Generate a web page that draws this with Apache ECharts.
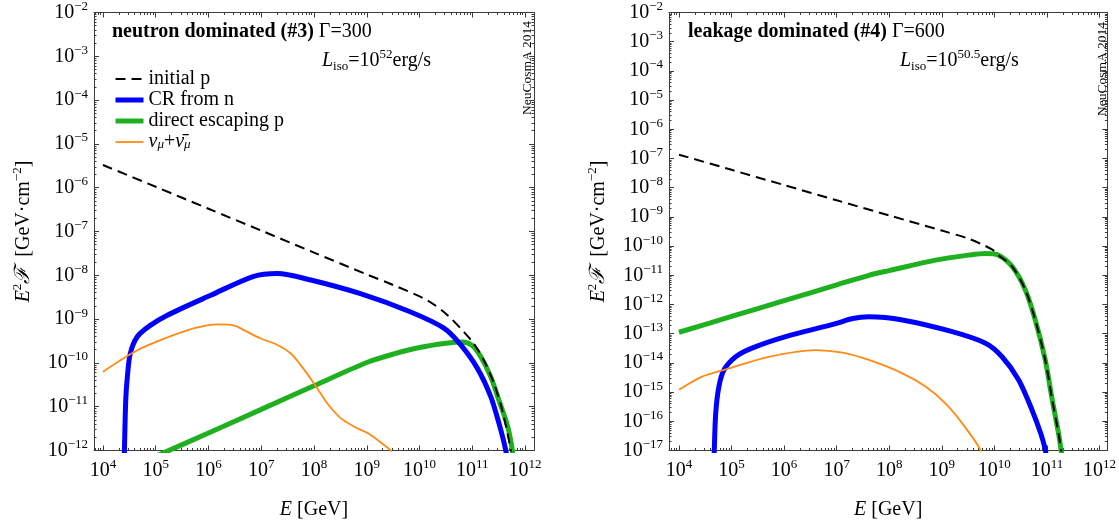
<!DOCTYPE html>
<html><head><meta charset="utf-8">
<script src="https://cdn.jsdelivr.net/npm/echarts@6/dist/echarts.min.js"></script>
<style>html,body{margin:0;padding:0;background:#fff}#c{width:1119px;height:525px}</style>
</head><body><div id="c"></div><script>
// ---- tick labels (decade exponents) ----
const xTickExps = [4, 5, 6, 7, 8, 9, 10, 11, 12];
const yTickExpsLeft = [-12, -11, -10, -9, -8, -7, -6, -5, -4, -3, -2];
const yTickExpsRight = [-17, -16, -15, -14, -13, -12, -11, -10, -9, -8, -7, -6, -5, -4, -3, -2];

// ---- series names ----
const seriesNames = ['initial p', 'CR from n', 'direct escaping p', 'ν_μ+ν̄_μ'];

// ---- left panel: neutron dominated (#3) [E (GeV), E^2 F (GeV cm^-2)] ----
const leftInitialP = [[1e4,3.3e-6],[1e5,1.05e-6],[1e6,3.3e-7],[1e7,1.05e-7],[1e8,3.3e-8],[1e9,1.05e-8],[3.16e9,6.0e-9],[1.4e10,2.7e-9],[3.4e10,1.23e-9],[6.9e10,5.1e-10],[1.07e11,2.75e-10],[1.66e11,1.15e-10],[2.57e11,3.4e-11],[3.7e11,8.3e-12],[5.4e11,1.0e-12],[5.9e11,4e-13]];
const leftCRn = [[2.5e4,3e-13],[2.7e4,1.4e-11],[2.9e4,4.8e-11],[3.3e4,1.66e-10],[4.5e4,4.0e-10],[7.9e4,7.2e-10],[1.66e5,1.23e-9],[1.1e6,3.5e-9],[7.2e6,9.5e-9],[2.0e7,1.1e-8],[8.7e7,7.8e-9],[7.6e8,3.8e-9],[6.8e9,1.45e-9],[2.9e10,6.2e-10],[6.0e10,2.6e-10],[1.26e11,7.4e-11],[2.24e11,1.7e-11],[3.2e11,4.2e-12],[4.3e11,1.02e-12],[4.8e11,4e-13]];
const leftDirectP = [[1e5,7.4e-13],[1e6,2.5e-12],[1e7,8.7e-12],[1e8,3.0e-11],[1e9,1.02e-10],[3.16e9,1.58e-10],[1e10,2.24e-10],[3.16e10,2.8e-10],[6.3e10,3.0e-10],[1e11,2.5e-10],[1.45e11,1.38e-10],[2.24e11,4.8e-11],[3.2e11,1.4e-11],[4.7e11,3.5e-12],[5.75e11,1.0e-12],[6.2e11,4e-13]];
const leftNumu = [[1e4,6.3e-11],[3.9e4,1.78e-10],[1.23e5,3.3e-10],[5.4e5,6.2e-10],[1.5e6,7.6e-10],[3.0e6,7.2e-10],[4.7e6,5.6e-10],[9.8e6,3.6e-10],[2.0e7,2.6e-10],[3.6e7,1.66e-10],[5.6e7,8.9e-11],[1.0e8,3.4e-11],[1.78e8,1.2e-11],[3.2e8,5.5e-12],[5.8e8,3.5e-12],[1.17e9,2.3e-12],[2.1e9,1.35e-12],[2.8e9,1.02e-12],[3.5e9,6e-13]];

// ---- right panel: leakage dominated (#4) ----
const rightInitialP = [[1e4,1.35e-7],[1e5,4.1e-8],[1e6,1.23e-8],[1e7,3.7e-9],[1e8,1.12e-9],[1e9,3.4e-10],[3.16e9,1.82e-10],[6.3e9,1.07e-10],[1e10,6.8e-11],[1.2e10,4.9e-11],[2.2e10,1.95e-11],[3.9e10,3.1e-12],[6.0e10,2.95e-13],[9.3e10,1.26e-14],[1.26e11,5.4e-16],[1.66e11,3.9e-17],[1.86e11,1.07e-17],[2.0e11,5e-18]];
const rightCRn = [[4.65e4,3e-18],[4.7e4,1.07e-17],[5.0e4,1.9e-16],[5.75e4,1.55e-15],[7.2e4,5.8e-15],[1.2e5,1.62e-14],[2.45e5,3.2e-14],[1.07e6,7.9e-14],[9.5e6,2.2e-13],[2.0e7,3.3e-13],[4.1e7,3.8e-13],[1.78e8,2.95e-13],[1.58e9,1.17e-13],[6.8e9,4.7e-14],[1.4e10,1.62e-14],[2.9e10,2.6e-15],[5.2e10,2.45e-16],[7.6e10,3.9e-17],[9.3e10,1.07e-17],[1.0e11,4e-18]];
const rightDirectP = [[1e4,1.12e-13],[1e5,3.9e-13],[1e6,1.35e-12],[1e7,4.7e-12],[4.1e7,1.0e-11],[1e8,1.45e-11],[7.6e8,3.3e-11],[3.2e9,4.9e-11],[6.8e9,5.6e-11],[1.2e10,4.9e-11],[2.2e10,1.95e-11],[3.9e10,3.1e-12],[6.0e10,2.95e-13],[9.3e10,1.26e-14],[1.26e11,5.4e-16],[1.66e11,3.9e-17],[1.86e11,1.07e-17],[2.0e11,5e-18]];
const rightNumu = [[1e4,1.2e-15],[2.75e4,3.4e-15],[7.8e4,6.0e-15],[5.1e5,1.62e-14],[4.0e6,2.75e-14],[1.29e7,2.24e-14],[4.1e7,1.26e-14],[1.78e8,4.4e-15],[4.9e8,1.55e-15],[1.17e9,4.1e-16],[2.45e9,8.5e-17],[5.4e9,1.07e-17],[6e9,4e-18]];

// ---- helpers ----
const F = 'Liberation Serif';
const FRAME = '#3c3c3c';
const dec = e => Number('1e' + e);
function minorsOf(exps) {
  const out = [];
  for (let i = exps[0] - 1; i <= exps[exps.length - 1]; i++) {
    for (let k = 2; k <= 9; k++) out.push(Number(k + 'e' + i));
  }
  return out;
}
const xMajor = xTickExps.map(dec), xMinor = minorsOf(xTickExps);
const yMajorL = yTickExpsLeft.map(dec), yMinorL = minorsOf(yTickExpsLeft);
const yMajorR = yTickExpsRight.map(dec), yMinorR = minorsOf(yTickExpsRight);

const tickRich = {
  b: {fontFamily: F, fontSize: 20, fontWeight: 'normal', color: '#000', lineHeight: 25},
  e: {fontFamily: F, fontSize: 13, fontWeight: 'normal', color: '#000', verticalAlign: 'top', lineHeight: 15}
};
function fmt(v) {
  const e = Math.round(Math.log10(v));
  return '{b|10}{e|' + (e < 0 ? '\u2212' + (-e) : e) + '}';
}
function mkRich(lh) {
  return {
    b: {fontFamily: F, fontSize: 20, fontWeight: 'bold', color: '#000', lineHeight: lh},
    n: {fontFamily: F, fontSize: 20, fontWeight: 'normal', color: '#000', lineHeight: lh},
    i: {fontFamily: F, fontSize: 20, fontWeight: 'normal', fontStyle: 'italic', color: '#000', lineHeight: lh},
    cal: {fontFamily: F, fontSize: 21, fontWeight: 'normal', fontStyle: 'italic', color: '#000', lineHeight: lh},
    sup: {fontFamily: F, fontSize: 13, fontWeight: 'normal', color: '#000', verticalAlign: 'top', lineHeight: 14},
    sub: {fontFamily: F, fontSize: 13, fontWeight: 'normal', color: '#000', verticalAlign: 'bottom', lineHeight: 14},
    isub: {fontFamily: F, fontSize: 13, fontWeight: 'normal', fontStyle: 'italic', color: '#000', verticalAlign: 'bottom', lineHeight: 14}
  };
}
const textRich = mkRich(25);
const legendRich = mkRich(18);

function xAx(grid, min, max, pos, major, label) {
  return {
    type: 'log', logBase: 10, gridIndex: grid, position: pos, min: min, max: max,
    axisLine: {show: major, onZero: false, lineStyle: {color: FRAME, width: 1}},
    axisTick: {show: true, inside: true, length: major ? 5 : 2.5, customValues: major ? xMajor : xMinor,
               lineStyle: {color: FRAME, width: 1}},
    axisLabel: label ? {show: true, customValues: xMajor, formatter: fmt, margin: 8, rich: tickRich}
                     : {show: false},
    splitLine: {show: false}, minorTick: {show: false}, minorSplitLine: {show: false},
    name: label ? '{i|E} [GeV]' : '', nameLocation: 'middle', nameGap: 47,
    nameTextStyle: {fontFamily: F, fontSize: 20, color: '#000', rich: textRich}
  };
}
function yAx(grid, min, max, pos, major, label, majors, minors) {
  return {
    type: 'log', logBase: 10, gridIndex: grid, position: pos, min: min, max: max,
    axisLine: {show: major, onZero: false, lineStyle: {color: FRAME, width: 1}},
    axisTick: {show: true, inside: true, length: major ? 5 : 2.5, customValues: major ? majors : minors,
               lineStyle: {color: FRAME, width: 1}},
    axisLabel: label ? {show: true, customValues: majors, formatter: fmt, margin: 6, rich: tickRich}
                     : {show: false},
    splitLine: {show: false}, minorTick: {show: false}, minorSplitLine: {show: false},
    name: label ? '{i|E}{sup|2}{cal|ℱ}{n|  [GeV·cm}{sup|\u22122}{n|]}' : '', nameLocation: 'middle', nameRotate: 90,
    nameGap: 58, nameTextStyle: {fontFamily: F, fontSize: 20, color: '#000', rich: textRich}
  };
}

const XL = [Math.pow(10, 3.83), Math.pow(10, 12.17)];
const XR = [Math.pow(10, 3.81), Math.pow(10, 12.15)];
const xAxes = [
  xAx(0, XL[0], XL[1], 'bottom', true, true), xAx(0, XL[0], XL[1], 'bottom', false, false),
  xAx(0, XL[0], XL[1], 'top', true, false), xAx(0, XL[0], XL[1], 'top', false, false),
  xAx(1, XR[0], XR[1], 'bottom', true, true), xAx(1, XR[0], XR[1], 'bottom', false, false),
  xAx(1, XR[0], XR[1], 'top', true, false), xAx(1, XR[0], XR[1], 'top', false, false)
];
const yAxes = [
  yAx(0, 1e-12, 1e-2, 'left', true, true, yMajorL, yMinorL), yAx(0, 1e-12, 1e-2, 'left', false, false, yMajorL, yMinorL),
  yAx(0, 1e-12, 1e-2, 'right', true, false, yMajorL, yMinorL), yAx(0, 1e-12, 1e-2, 'right', false, false, yMajorL, yMinorL),
  yAx(1, 1e-17, 1e-2, 'left', true, true, yMajorR, yMinorR), yAx(1, 1e-17, 1e-2, 'left', false, false, yMajorR, yMinorR),
  yAx(1, 1e-17, 1e-2, 'right', true, false, yMajorR, yMinorR), yAx(1, 1e-17, 1e-2, 'right', false, false, yMajorR, yMinorR)
];

const styles = {
  'initial p': {color: '#000', width: 2, type: [10, 6], z: 5},
  'CR from n': {color: '#0000ff', width: 5, type: 'solid', z: 3},
  'direct escaping p': {color: '#1fb01f', width: 5, type: 'solid', z: 2},
  'ν_μ+ν̄_μ': {color: '#ff8a14', width: 1.8, type: 'solid', z: 4}
};
function line(name, data, xi, yi) {
  const s = styles[name];
  return {
    type: 'line', name: name, data: data, xAxisIndex: xi, yAxisIndex: yi,
    symbol: 'none', showSymbol: false, smooth: 0.3, clip: true, z: s.z,
    color: s.color,
    lineStyle: {color: s.color, width: s.width, type: s.type, cap: 'butt', join: 'round'},
    emphasis: {disabled: true}, animation: false
  };
}
const series = [
  line('direct escaping p', leftDirectP, 0, 0),
  line('CR from n', leftCRn, 0, 0),
  line('ν_μ+ν̄_μ', leftNumu, 0, 0),
  line('initial p', leftInitialP, 0, 0),
  line('direct escaping p', rightDirectP, 4, 4),
  line('CR from n', rightCRn, 4, 4),
  line('ν_μ+ν̄_μ', rightNumu, 4, 4),
  line('initial p', rightInitialP, 4, 4)
];

const chart = echarts.init(document.getElementById('c'), null, {renderer: 'canvas'});
chart.setOption({
  backgroundColor: '#fff',
  animation: false,
  grid: [
    {left: 94, top: 12, width: 440, height: 439, containLabel: false},
    {left: 669, top: 12, width: 439, height: 439, containLabel: false}
  ],
  xAxis: xAxes,
  yAxis: yAxes,
  legend: {
    orient: 'vertical', left: 113, top: 69, padding: 0, itemGap: 1,
    itemWidth: 28, itemHeight: 14, selectedMode: false,
    itemStyle: {opacity: 0, borderWidth: 0},
    data: seriesNames.map(n => ({name: n, lineStyle: {
      width: styles[n].width, type: styles[n].type, color: styles[n].color}})),
    formatter: function (n) {
      if (n.indexOf('ν') === 0) return '{i|ν}{isub|μ}{n|+}{i|ν̄}{isub|μ}';
      return '{n|' + n + '}';
    },
    textStyle: {fontFamily: F, fontSize: 20, color: '#000', rich: legendRich}
  },
  title: [
    {text: '{b|neutron dominated (#3)} {n|Γ=300}', left: 112, top: 19, padding: 0, textStyle: {fontWeight: 'normal', rich: textRich}},
    {text: '{i|L}{sub|iso}{n|=10}{sup|52}{n|erg/s}', left: 322, top: 48, padding: 0, textStyle: {fontWeight: 'normal', rich: textRich}},
    {text: '{b|leakage dominated (#4)} {n|Γ=600}', left: 688, top: 19, padding: 0, textStyle: {fontWeight: 'normal', rich: textRich}},
    {text: '{i|L}{sub|iso}{n|=10}{sup|50.5}{n|erg/s}', left: 900, top: 48, padding: 0, textStyle: {fontWeight: 'normal', rich: textRich}}
  ],
  graphic: [
    {type: 'text', x: 527, y: 68, rotation: Math.PI / 2,
     style: {text: 'NeuCosmA 2014', font: '13.5px "Liberation Serif"', fill: '#000', align: 'center', verticalAlign: 'middle'}},
    {type: 'text', x: 1102, y: 69, rotation: Math.PI / 2,
     style: {text: 'NeuCosmA 2014', font: '13.5px "Liberation Serif"', fill: '#000', align: 'center', verticalAlign: 'middle'}}
  ],
  series: series
});
</script></body></html>
